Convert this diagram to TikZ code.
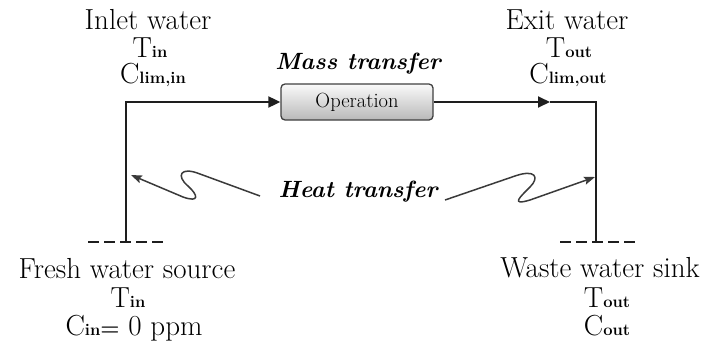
\documentclass[tikz,border=0pt]{standalone}
\usetikzlibrary{arrows.meta}
\definecolor{linec}{HTML}{1E1E1E}
\definecolor{heatc}{HTML}{3A3A3A}
\newcommand\sbx[1]{{\fontsize{16.5}{16.5}\selectfont\bfseries #1}}
\tikzset{
  lbl/.style={inner sep=0pt, anchor=base, font=\fontsize{29}{32}\selectfont},
  ttl/.style={inner sep=0pt, font=\fontsize{23.5}{26}\selectfont\bfseries\itshape},
  pipe/.style={draw=linec, line width=1.9pt},
  flow/.style={pipe, -{Triangle[length=12pt,width=11pt]}},
  heat/.style={draw=heatc, line width=1.5pt, -{Stealth[length=11pt,width=8pt,inset=2pt]}},
  opbox/.style={draw=linec!85, line width=1.3pt, rounded corners=4pt, top color=gray!4, bottom color=gray!55,
    minimum width=152pt, minimum height=36pt, inner sep=0pt, font=\fontsize{20.5}{22}\selectfont},
  gnd/.style={draw=linec, line width=1.9pt, dash pattern=on 11pt off 5pt}
}
\begin{document}
\begin{tikzpicture}[x=1pt,y=-1pt]
\useasboundingbox (0,0) rectangle (706,346);
% texts top
\node[lbl] (inlet) at (148,29) {Inlet water};
\node[lbl] (tin1) at (150,57) {T\sbx{in}};
\node[lbl] (clin) at (153,83) {C\sbx{lim,in}};
\node[lbl] (exit) at (567,29) {Exit water};
\node[lbl] (tout1) at (569,57) {T\sbx{out}};
\node[lbl] (clout) at (568,83) {C\sbx{lim,out}};
\node[ttl, anchor=base] (mass) at (358,69) {Mass transfer};
\node[opbox] (op) at (357,102) {Operation};
\node[ttl] (heatlbl) at (358,192) {Heat transfer};
% texts bottom
\node[lbl] (fresh) at (127,278) {Fresh water source};
\node[lbl] (tin2) at (128,307) {T\sbx{in}};
\node[lbl] (cin) at (134,335) {C\sbx{in}{\fontsize{22}{22}\selectfont\bfseries=} 0 ppm};
\node[lbl] (waste) at (600,277) {Waste water sink};
\node[lbl] (tout2) at (607,307) {T\sbx{out}};
\node[lbl] (cout) at (607,335) {C\sbx{out}};
% coordinates
\coordinate (srcL) at (126,242);
\coordinate (cornerL) at (126,102);
\coordinate (midR) at (550,102);
\coordinate (cornerR) at (596,102);
\coordinate (sinkR) at (596,242);
\coordinate (gL1) at (88,242);
\coordinate (gL2) at (164,242);
\coordinate (gR1) at (560,242);
\coordinate (gR2) at (636,242);
% pipes
\draw[flow] (srcL) -- (cornerL) -- (op.west);
\draw[flow] (op.east) -- (midR);
\draw[pipe] (midR) -- (cornerR) -- (sinkR);
\draw[gnd] (gL1) -- (gL2);
\draw[gnd] (gR1) -- (gR2);
% heat squiggles
\coordinate (hLs) at (260,196);
\coordinate (hLt) at (131,175);
\coordinate (hRs) at (445,200);
\coordinate (hRt) at (595,177);
\draw[heat] (hLs) -- (200,174) .. controls (180,166) and (176,176) .. (188,186)
   .. controls (198,195) and (200,203) .. (183,197) -- (hLt);
\draw[heat] (hRs) -- (515,176) .. controls (535,169) and (540,177) .. (530,187)
   .. controls (520,197) and (510,206) .. (530,200) -- (hRt);
\end{tikzpicture}
\end{document}
